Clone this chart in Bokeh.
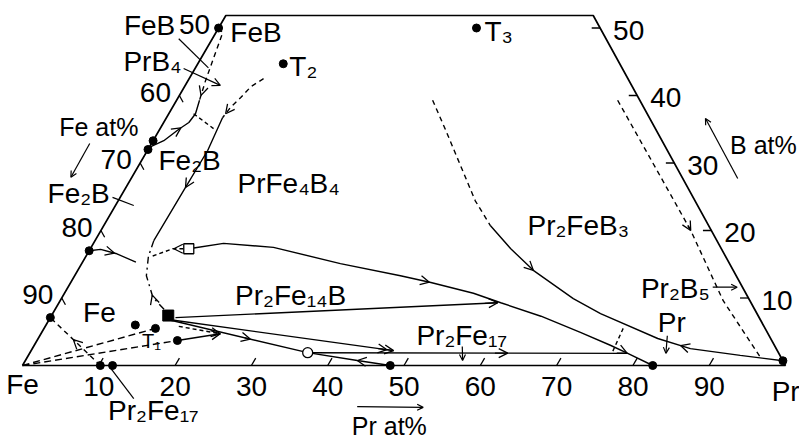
from bokeh.plotting import figure
from bokeh.models import Range1d, Arrow, OpenHead
from bokeh.core.properties import value
from bokeh.embed import file_html
from bokeh.resources import INLINE

# ---------------- data: compositions (Pr at%, B at%) ----------------
bottom_ticks_pr = [10, 20, 30, 40, 50, 60, 70, 80, 90]
bottom_tick_labels = ["10", "20", "30", "40", "50", "60", "70", "80", "90"]
left_ticks_b = [10, 20, 30, 40]
left_label_b = [10, 20, 30, 40, 50]
left_tick_labels = ["90", "80", "70", "60", "50"]          # Fe at%
right_ticks_b = [10, 20, 30, 40, 50]
right_tick_labels = ["10", "20", "30", "40", "50"]         # B at%

outline_pr = [0, 100, 48.15, 0, 0]
outline_b = [0, 0, 51.85, 51.85, 0]

# filled points
dots_pr = [0, 11.2, 33.8, 0, 0, 0, 0, 10.2, 11.8, 11.7, 14.6, 18.4, 48.2, 82.6, 99.3]
dots_b = [50.0, 44.7, 50.0, 33.3, 32.0, 17.0, 7.1, 0, 0, 6.0, 5.5, 3.7, 0, 0, 0.7]
sq_pr, sq_b = [15.3], [7.4]            # filled square
ocirc_pr, ocirc_b = [36.4], [1.9]      # open circle
osq_pr, osq_b = [12.9], [17.3]         # open square

# boundary curves
feb_dash_pr = [0.0, 0.9, 1.7, 2.3, 3.0]
feb_dash_b = [50.0, 49.3, 45.2, 42.2, 39.3]
feb_solid_pr = [3.0, 3.5, 3.3, 2.5, 1.4, 0.0]
feb_solid_b = [39.3, 37.3, 36.0, 35.0, 33.3, 32.3]
tie1_pr, tie1_b = [3.25, 7.0], [37.3, 35.1]

t2_dash_pr = [9.75, 8.7, 8.2, 7.6, 7.35]
t2_dash_b = [42.5, 41.3, 39.7, 38.2, 36.7]
t2_solid_pr = [7.35, 7.9, 7.8, 7.7]
t2_solid_b = [36.7, 31.85, 25.9, 18.5]
t2_dd_pr = [7.7, 8.2, 9.4, 11.9, 15.3]
t2_dd_b = [18.5, 16.15, 13.3, 10.1, 7.55]

left_curve_pr = [0, 1.4, 3.7, 7.0]
left_curve_b = [17.0, 17.2, 16.6, 15.3]
osq_dash_pr = [12.2, 10.8, 8.5]
osq_dash_b = [17.3, 17.3, 16.1]

curve_b_pr = [13.5, 17.05, 23.9, 33.9, 42.7, 47.2, 53.6, 57.9, 64.2, 70.6, 75.5, 78.4, 82.6]
curve_b_b = [17.4, 18.1, 17.5, 15.1, 13.3, 12.3, 10.7, 9.3, 7.3, 4.9, 3.0, 1.8, 0]

line_d_pr, line_d_b = [16.4, 57.5], [7.1, 9.3]
line_e_pr, line_e_b = [16.4, 47.5], [6.7, 2.2]
line_f_pr, line_f_b = [16.0, 36.4, 43.5, 48.2], [6.7, 1.9, 0.74, 0]
line_c_pr, line_c_b = [36.4, 78.4], [1.9, 1.8]
line_g_pr, line_g_b = [18.4, 23.5], [3.7, 4.7]
line_h_pr, line_h_b = [17.5, 23.5], [5.8, 4.7]
fe_dash1_pr, fe_dash1_b = [0, 14.6], [0, 5.5]
fe_dash2_pr, fe_dash2_b = [0, 18.4], [0, 3.7]
p17_dash_pr, p17_dash_b = [10.2, 0], [0, 7.1]

ca_dash_pr = [33.55, 37.6, 42.2, 46.8, 50.7]
ca_dash_b = [39.3, 34.8, 29.6, 24.4, 20.7]
ca_solid_pr = [50.7, 55.1, 59.7, 67.1, 71.8, 81.2, 86.25, 93.3, 99.3]
ca_solid_b = [20.7, 17.3, 14.1, 9.9, 7.7, 4.0, 2.5, 1.5, 0.7]
rd_pr = [57.8, 77.3, 86.9, 96.1]
rd_b = [39.3, 20.0, 9.6, 1.2]
tie2_pr, tie2_b = [75.9, 76.3], [5.5, 1.9]

# ---------------- projection / figure ----------------
W, H = 799, 441
PX_X, PX_B, SHEAR = 7.63, 6.75, 0.514
X0, Y0 = 22, 365


def tx(pr, b):
    return [p_ + SHEAR * q for p_, q in zip(pr, b)]


p = figure(width=W, height=H, output_backend="svg", toolbar_location=None,
           x_range=Range1d(-X0 / PX_X, (W - X0) / PX_X),
           y_range=Range1d(-(H - Y0) / PX_B, Y0 / PX_B),
           min_border=0)
p.axis.visible = False
p.grid.visible = False
p.outline_line_color = None
p.background_fill_color = "white"

K = "black"
LW = 1.4
FONT = value("Liberation Sans")


def curve(pr, b, dash="solid", lw=LW):
    p.line(tx(pr, b), b, line_color=K, line_width=lw, line_dash=dash)


def arrow_on(pr, b, seg, t, rev=False, size=9):
    x = tx(pr, b)
    x0, y0, x1, y1 = x[seg], b[seg], x[seg + 1], b[seg + 1]
    xt, yt = x0 + t * (x1 - x0), y0 + t * (y1 - y0)
    dx, dy = x1 - x0, y1 - y0
    if rev:
        dx, dy = -dx, -dy
    e = 0.04
    p.add_layout(Arrow(end=OpenHead(size=size, line_width=1.3, line_color=K),
                       x_start=xt - e * dx, y_start=yt - e * dy, x_end=xt, y_end=yt,
                       line_width=1.3, line_color=K))


def leader(pr, b, head=True, size=8):
    x = tx(pr, b)
    if head:
        p.add_layout(Arrow(end=OpenHead(size=size, line_width=1.2, line_color=K),
                           x_start=x[0], y_start=b[0], x_end=x[1], y_end=b[1],
                           line_width=1.2, line_color=K))
    else:
        p.line(x, b, line_color=K, line_width=1.2)


# outline
curve(outline_pr, outline_b, lw=1.7)

# ticks
bt_pr = bottom_ticks_pr
p.segment(tx(bt_pr, [0] * 9), [0] * 9, tx(bt_pr, [1.1] * 9), [1.1] * 9, line_color=K, line_width=1.3)
lt0 = [0] * len(left_ticks_b)
lt1 = [1.0] * len(left_ticks_b)
p.segment(tx(lt0, left_ticks_b), left_ticks_b, tx(lt1, [b - 1.0 for b in left_ticks_b]),
          [b - 1.0 for b in left_ticks_b], line_color=K, line_width=1.3)
rt_pr0 = [100 - b for b in right_ticks_b]
rt_pr1 = [100 - b - 1.1 for b in right_ticks_b]
p.segment(tx(rt_pr0, right_ticks_b), right_ticks_b, tx(rt_pr1, right_ticks_b), right_ticks_b,
          line_color=K, line_width=1.3)

# curves
DASH = "5 4"
curve(feb_dash_pr, feb_dash_b, DASH)
arrow_on(feb_dash_pr, feb_dash_b, 3, 0.75)
curve(feb_solid_pr, feb_solid_b)
arrow_on(feb_solid_pr, feb_solid_b, 2, 0.8, rev=True)
curve(tie1_pr, tie1_b, "4 3")

curve(t2_dash_pr, t2_dash_b, DASH)
arrow_on(t2_dash_pr, t2_dash_b, 3, 0.6)
curve(t2_solid_pr, t2_solid_b)
arrow_on(t2_solid_pr, t2_solid_b, 1, 0.92)
curve(t2_dd_pr, t2_dd_b, "7 4 2 4")
arrow_on(t2_dd_pr, t2_dd_b, 2, 0.9, rev=True)

curve(left_curve_pr, left_curve_b)
arrow_on(left_curve_pr, left_curve_b, 1, 0.9)
curve(osq_dash_pr, osq_dash_b, "4 3")
arrow_on(osq_dash_pr, osq_dash_b, 0, 0.9)

curve(curve_b_pr, curve_b_b)
arrow_on(curve_b_pr, curve_b_b, 4, 0.95)
arrow_on(curve_b_pr, curve_b_b, 10, 0.95)

curve(line_d_pr, line_d_b)
arrow_on(line_d_pr, line_d_b, 0, 1.0)
curve(line_e_pr, line_e_b)
arrow_on(line_e_pr, line_e_b, 0, 0.97)
arrow_on(line_e_pr, line_e_b, 0, 1.0)
curve(line_f_pr, line_f_b)
arrow_on(line_f_pr, line_f_b, 0, 0.58)
arrow_on(line_f_pr, line_f_b, 2, 0.0, rev=True)
curve(line_c_pr, line_c_b)
arrow_on(line_c_pr, line_c_b, 0, 0.625)
curve(line_g_pr, line_g_b)
arrow_on(line_g_pr, line_g_b, 0, 1.0)
curve(line_h_pr, line_h_b, "4 3")
arrow_on(line_h_pr, line_h_b, 0, 1.0)
curve(fe_dash1_pr, fe_dash1_b, "7 4")
curve(fe_dash2_pr, fe_dash2_b, "7 4")
curve(p17_dash_pr, p17_dash_b, "5 4")
arrow_on(p17_dash_pr, p17_dash_b, 0, 0.54)

curve(ca_dash_pr, ca_dash_b, DASH)
curve(ca_solid_pr, ca_solid_b)
arrow_on(ca_solid_pr, ca_solid_b, 1, 1.0)
arrow_on(ca_solid_pr, ca_solid_b, 5, 0.7, rev=True)
curve(rd_pr, rd_b, DASH)
arrow_on(rd_pr, rd_b, 0, 1.0)
curve(tie2_pr, tie2_b, "4 3")

# points
p.scatter(tx(dots_pr, dots_b), dots_b, size=8, marker="circle", color=K)
p.scatter(tx(sq_pr, sq_b), sq_b, size=11, marker="square", color=K)
p.scatter(tx(ocirc_pr, ocirc_b), ocirc_b, size=10, marker="circle",
          fill_color="white", line_color=K, line_width=1.3)
p.scatter(tx(osq_pr, osq_b), osq_b, size=10, marker="square",
          fill_color="white", line_color=K, line_width=1.3)

# leaders
leader([-4.4, 1.7], [48.4, 44.1], head=False)
leader([-1.5, 4.6], [44.0, 41.5])
leader([-1.0, 2.4], [24.9, 23.7], head=False)
leader([84.5, 87.7], [11.6, 11.6], size=6)
leader([82.25, 83.4], [4.4, 1.8], size=6)
leader([56.2, 57.3], [2.8, 0.74], size=6)
leader([11.8, 17.1], [-0.44, -4.9], head=False)
leader([-8.1, -8.0], [32.9, 27.9], size=6)
leader([79.5, 70.7], [27.7, 36.6], size=6)
leader([47.0, 55.7], [-6.1, -6.2], size=6)


# texts
def label(txt, pr, b, align="center", size="28px"):
    p.text(tx([pr], [b]), [b], text=[txt], text_font=FONT, text_font_size=size,
           text_align=align, text_baseline="middle", text_color=K)


for t, pr in zip(bottom_tick_labels, bottom_ticks_pr):
    label(t, pr + 1.6, -3.1)
for t, b in zip(left_tick_labels, left_label_b):
    label(t, -3.4, b + 0.5)
for t, b in zip(right_tick_labels, right_ticks_b):
    label(t, 100 - b + 3.9, b - 0.3)

label("Fe", 1.45, -2.8)
label("Pr", 102.0, -3.85)
label("Pr at%", 52.7, -9.0, size="25px")
label("Fe at%", -8.15, 35.3, size="25px")
label("B at%", 80.3, 32.7, size="25px")
label("FeB", -9.25, 50.4)
label("PrB\u2084", -6.1, 45.0)
label("Fe\u2082B", -5.75, 25.5)
label("FeB", 1.9, 49.3, align="left")
label("T\u2082", 12.2, 44.3, align="left")
label("T\u2083", 35.1, 49.5, align="left")
label("Fe\u2082B", 2.2, 30.4, align="left")
label("PrFe\u2084B\u2084", 21.0, 27.0)
label("Pr\u2082FeB\u2083", 62.2, 20.7)
label("Pr\u2082Fe\u2081\u2084B", 29.8, 10.4)
label("Pr\u2082Fe\u2081\u2087", 55.3, 4.4)
label("Pr\u2082Fe\u2081\u2087", 20.6, -6.7)
label("Pr\u2082B\u2085", 79.7, 11.4)
label("Pr", 81.8, 6.4)
label("Fe", 6.05, 7.85)
label("T\u2081", 15.0, 3.7, size="20px")

open("out.html", "w").write(file_html(p, INLINE))
